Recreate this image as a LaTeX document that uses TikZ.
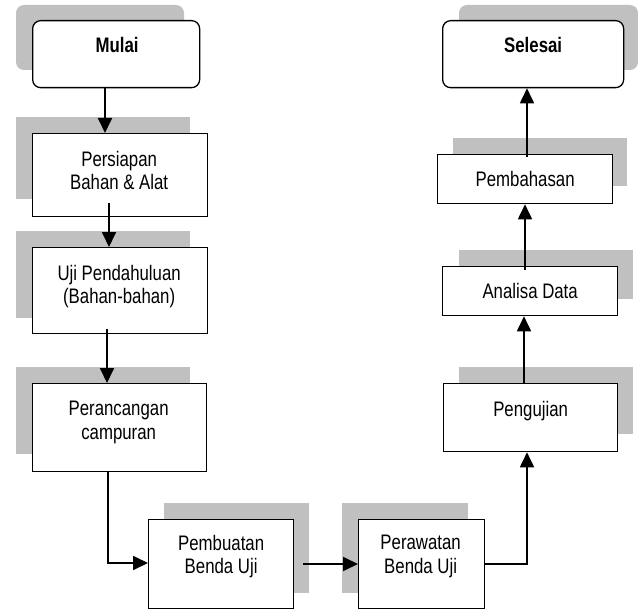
\documentclass[tikz,border=0pt]{standalone}
\usepackage{fontspec}
\setmainfont{Liberation Sans}[FakeStretch=0.8]
\usetikzlibrary{arrows.meta,calc}
\definecolor{shadowgray}{HTML}{C0C0C0}
\begin{document}
\begin{tikzpicture}[x=1pt,y=-1pt,
  box/.style={draw=black, line width=1.3pt, fill=white, inner sep=0pt, anchor=north west},
  endbox/.style={box, rounded corners=8pt},
  shade/.style={fill=shadowgray},
  txt/.style={inner sep=0pt, anchor=north, align=center, font=\fontsize{21}{23.5}\selectfont},
  arr/.style={line width=1.8pt, -{Triangle[length=15pt,width=14pt]}}]
\useasboundingbox (0,0) rectangle (638,610);
% shadows
\fill[shade, rounded corners=8pt] (16,5) rectangle (184,70);
\fill[shade] (16,117) rectangle (190,199);
\fill[shade] (16,231) rectangle (190,318);
\fill[shade] (16,367) rectangle (190,454);
\fill[shade] (164,503) rectangle (309,593);
\fill[shade] (342,503) rectangle (468,593);
\fill[shade] (459,367) rectangle (633,434);
\fill[shade] (459,250) rectangle (633,299);
\fill[shade] (453,138) rectangle (627,186);
\fill[shade, rounded corners=8pt] (459,5) rectangle (638,70);
% boxes
\node[endbox, minimum width=167pt, minimum height=67pt] (mulai) at (32,20) {};
\node[box, minimum width=175pt, minimum height=83pt] (persiapan) at (32,133) {};
\node[box, minimum width=175pt, minimum height=86pt] (uji) at (32,247) {};
\node[box, minimum width=174pt, minimum height=88pt] (rancang) at (32,383) {};
\node[box, minimum width=145pt, minimum height=89pt] (buat) at (148,519) {};
\node[box, minimum width=126pt, minimum height=89pt] (rawat) at (358,519) {};
\node[box, minimum width=174pt, minimum height=68pt] (uji2) at (443,383) {};
\node[box, minimum width=175pt, minimum height=49pt] (analisa) at (442,266) {};
\node[box, minimum width=175pt, minimum height=49pt] (bahas) at (437,154) {};
\node[endbox, minimum width=181pt, minimum height=67pt] (selesai) at (442,20) {};
% texts
\node[txt] (tmulai) at ($(mulai.north)+(1,17)$) {\textbf{Mulai}};
\node[txt] (tpersiapan) at ($(persiapan.north)+(-1,18)$) {Persiapan\\Bahan \& Alat};
\node[txt] (tuji) at ($(uji.north)+(-1,18)$) {Uji Pendahuluan\\(Bahan-bahan)};
\node[txt] (trancang) at ($(rancang.north)+(-1,18)$) {Perancangan\\campuran};
\node[txt] (tbuat) at ($(buat.north)+(0,16)$) {Pembuatan\\Benda Uji};
\node[txt] (trawat) at ($(rawat.north)+(-1,16)$) {Perawatan\\Benda Uji};
\node[txt] (tuji2) at ($(uji2.north)+(0,18)$) {Pengujian};
\node[txt] (tanalisa) at ($(analisa.north)+(0,17)$) {Analisa Data};
\node[txt] (tbahas) at ($(bahas.north)+(0,17)$) {Pembahasan};
\node[txt] (tselesai) at ($(selesai.north)+(0,17)$) {\textbf{Selesai}};
% connectors
\draw[arr] (105,0 |- mulai.south) -- (105,0 |- persiapan.north);
\draw[arr] ($(109,0 |- persiapan.south)+(0,-14)$) -- (109,0 |- uji.north);
\draw[arr] ($(107,0 |- uji.south)+(0,-5)$) -- (107,0 |- rancang.north);
\draw[arr] (108,0 |- rancang.south) |- (buat.west |- 0,563);
\draw[arr] ($(buat.east |- 0,564)+(9,0)$) -- (rawat.west |- 0,564);
\draw[arr] (rawat.east |- 0,564) -| (527,0 |- uji2.south);
\draw[arr] (524,0 |- uji2.north) -- (524,0 |- analisa.south);
\draw[arr] ($(525,0 |- analisa.north)+(0,4)$) -- (525,0 |- bahas.south);
\draw[arr] ($(527,0 |- bahas.north)+(0,3)$) -- (527,0 |- selesai.south);
\end{tikzpicture}
\end{document}
